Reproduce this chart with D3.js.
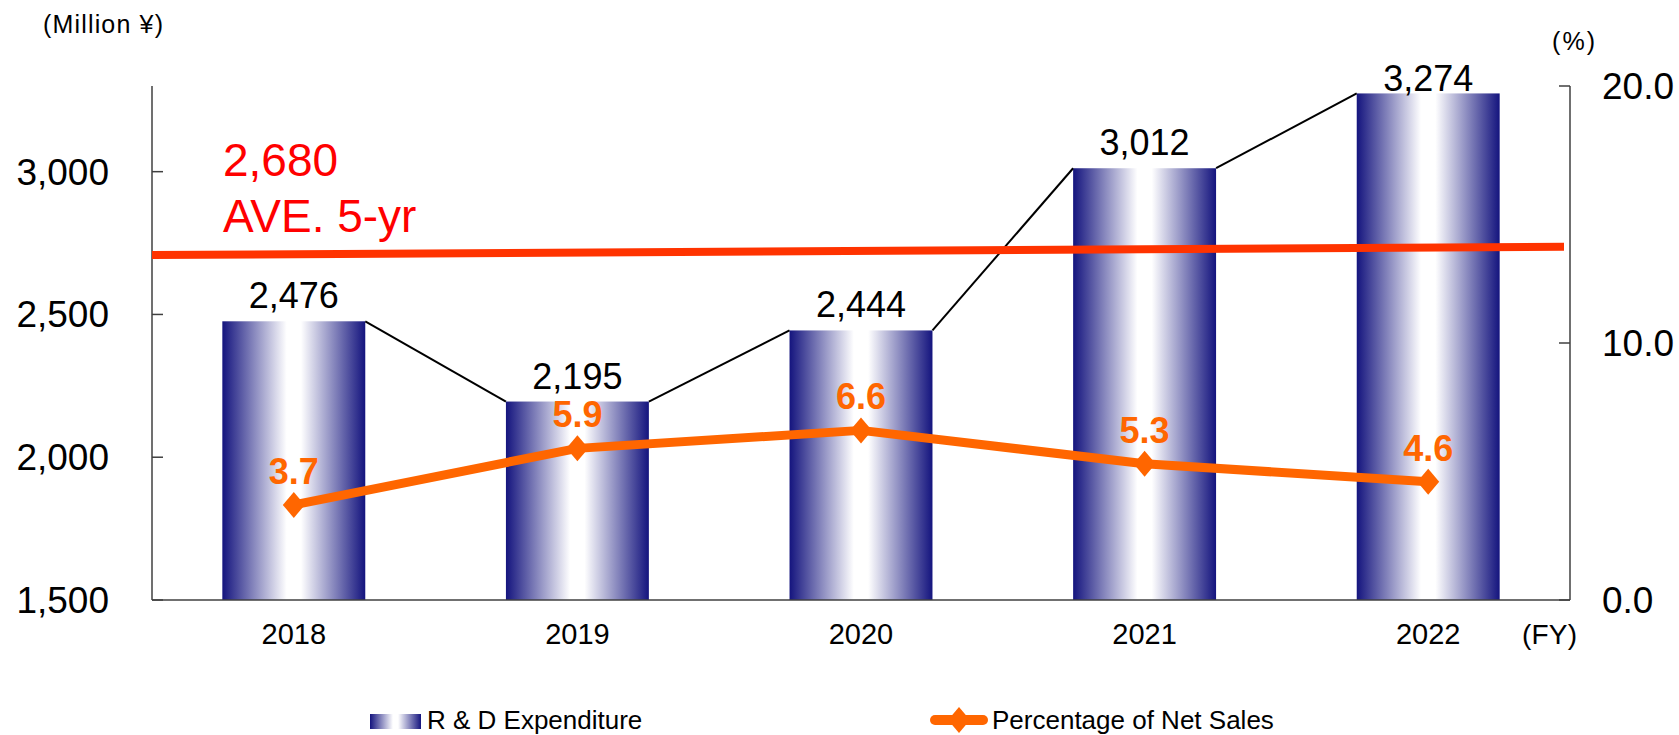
<!DOCTYPE html>
<html>
<head>
<meta charset="utf-8">
<script src="https://cdn.jsdelivr.net/npm/d3@7"></script>
<style>
  html, body { margin: 0; padding: 0; background: #fff; }
  svg { display: block; font-family: "Liberation Sans", Arial, sans-serif; }
</style>
</head>
<body>
<svg id="chart" width="1679" height="735"></svg>
<script>
// ---- data ----
const years = ["2018", "2019", "2020", "2021", "2022"];
const rdExpenditure = [2476, 2195, 2444, 3012, 3274];
const pctNetSales = [3.7, 5.9, 6.6, 5.3, 4.6];
const leftTicks = [1500, 2000, 2500, 3000];
const rightTicks = [0, 10, 20];
const averageValue = 2680;
const averageLineEnds = [2708, 2737]; // drawn line (slightly sloped in the original)
const averageLabel = ["2,680", "AVE. 5-yr"];
const legendLabels = ["R & D Expenditure", "Percentage of Net Sales"];

// ---- layout ----
const svg = d3.select("#chart");
const L = 152, R = 1570, T = 86, B = 600;
const navy = "#14147e", orange = "#ff6600";

const x = d3.scaleBand().domain(years).range([L, R]).paddingInner(0.496).paddingOuter(0.248);
const yL = d3.scaleLinear().domain([1500, 3300]).range([B, T]);
const yR = d3.scaleLinear().domain([0, 20]).range([B, T]);

// gradient
const defs = svg.append("defs");
const g = defs.append("linearGradient").attr("id", "barGrad").attr("x1", "0").attr("x2", "1").attr("y1", "0").attr("y2", "0");
g.append("stop").attr("offset", "0%").attr("stop-color", navy);
g.append("stop").attr("offset", "45%").attr("stop-color", "#ffffff");
g.append("stop").attr("offset", "55%").attr("stop-color", "#ffffff");
g.append("stop").attr("offset", "100%").attr("stop-color", navy);

// bars
svg.append("g").selectAll("rect").data(rdExpenditure).join("rect")
  .attr("x", (d, i) => x(years[i]))
  .attr("y", d => yL(d))
  .attr("width", x.bandwidth())
  .attr("height", d => B - yL(d))
  .attr("fill", "url(#barGrad)");

// series connector lines
const conn = d3.range(rdExpenditure.length - 1).map(i => [
  [x(years[i]) + x.bandwidth(), yL(rdExpenditure[i])],
  [x(years[i + 1]), yL(rdExpenditure[i + 1])]
]);
svg.append("g").selectAll("line").data(conn).join("line")
  .attr("x1", d => d[0][0]).attr("y1", d => d[0][1])
  .attr("x2", d => d[1][0]).attr("y2", d => d[1][1])
  .attr("stroke", "#000").attr("stroke-width", 2);

// axes lines
const axisColor = "#404040";
svg.append("line").attr("x1", L).attr("x2", L).attr("y1", T).attr("y2", B).attr("stroke", axisColor).attr("stroke-width", 1.5);
svg.append("line").attr("x1", R).attr("x2", R).attr("y1", T).attr("y2", B).attr("stroke", axisColor).attr("stroke-width", 1.5);
svg.append("line").attr("x1", L).attr("x2", R).attr("y1", B).attr("y2", B).attr("stroke", axisColor).attr("stroke-width", 1.5);

// left ticks + labels
const lt = svg.append("g");
lt.selectAll("line").data(leftTicks).join("line")
  .attr("x1", L).attr("x2", L + 11).attr("y1", d => yL(d)).attr("y2", d => yL(d))
  .attr("stroke", axisColor).attr("stroke-width", 1.5);
lt.selectAll("text").data(leftTicks).join("text")
  .attr("x", 109).attr("y", d => yL(d) + 13)
  .attr("text-anchor", "end").attr("font-size", 37).attr("fill", "#000")
  .text(d => d3.format(",")(d));

// right ticks + labels
const rt = svg.append("g");
rt.selectAll("line").data(rightTicks).join("line")
  .attr("x1", R - 11).attr("x2", R).attr("y1", d => yR(d)).attr("y2", d => yR(d))
  .attr("stroke", axisColor).attr("stroke-width", 1.5);
rt.selectAll("text").data(rightTicks).join("text")
  .attr("x", 1602).attr("y", d => yR(d) + 13)
  .attr("font-size", 37).attr("fill", "#000")
  .text(d => d3.format(".1f")(d));

// x labels
svg.append("g").selectAll("text").data(years).join("text")
  .attr("x", d => x(d) + x.bandwidth() / 2).attr("y", 644)
  .attr("text-anchor", "middle").attr("font-size", 29).attr("fill", "#000")
  .text(d => d);

// unit labels
svg.append("text").attr("x", 43).attr("y", 33).attr("font-size", 25).attr("textLength", 120).text("(Million ¥)");
svg.append("text").attr("x", 1552).attr("y", 50).attr("font-size", 25).attr("textLength", 43).text("(%)");
svg.append("text").attr("x", 1522).attr("y", 644).attr("font-size", 28).attr("textLength", 55).text("(FY)");

// bar value labels
svg.append("g").selectAll("text").data(rdExpenditure).join("text")
  .attr("x", (d, i) => x(years[i]) + x.bandwidth() / 2)
  .attr("y", d => Math.max(yL(d) - 13, T + 5))
  .attr("text-anchor", "middle").attr("font-size", 36).attr("fill", "#000")
  .text(d => d3.format(",")(d));

// average line
svg.append("line")
  .attr("x1", L).attr("x2", 1564)
  .attr("y1", yL(averageLineEnds[0])).attr("y2", yL(averageLineEnds[1]))
  .attr("stroke", "#ff3300").attr("stroke-width", 8);
svg.append("text").attr("x", 223).attr("y", 176).attr("font-size", 46).attr("fill", "#ff0000").text(averageLabel[0]);
svg.append("text").attr("x", 223).attr("y", 232).attr("font-size", 46).attr("fill", "#ff0000").text(averageLabel[1]);

// percentage line
const cx = i => x(years[i]) + x.bandwidth() / 2;
const line = d3.line().x((d, i) => cx(i)).y(d => yR(d));
svg.append("path").datum(pctNetSales).attr("d", line)
  .attr("fill", "none").attr("stroke", orange).attr("stroke-width", 9).attr("stroke-linejoin", "round");
const diamond = "M0,-13L11,0L0,13L-11,0Z";
svg.append("g").selectAll("path").data(pctNetSales).join("path")
  .attr("transform", (d, i) => `translate(${cx(i)},${yR(d)})`)
  .attr("d", diamond).attr("fill", orange);
svg.append("g").selectAll("text").data(pctNetSales).join("text")
  .attr("x", (d, i) => cx(i)).attr("y", d => yR(d) - 21)
  .attr("text-anchor", "middle").attr("font-size", 36).attr("font-weight", "bold").attr("fill", orange)
  .text(d => d3.format(".1f")(d));

// legend
svg.append("rect").attr("x", 370).attr("y", 714).attr("width", 51).attr("height", 15).attr("fill", "url(#barGrad)");
svg.append("text").attr("x", 427).attr("y", 729).attr("font-size", 26).text(legendLabels[0]);
svg.append("line").attr("x1", 935).attr("x2", 983).attr("y1", 720).attr("y2", 720)
  .attr("stroke", orange).attr("stroke-width", 10).attr("stroke-linecap", "round");
svg.append("path").attr("transform", "translate(959,720)").attr("d", diamond).attr("fill", orange);
svg.append("text").attr("x", 992).attr("y", 729).attr("font-size", 26).text(legendLabels[1]);
</script>
</body>
</html>
